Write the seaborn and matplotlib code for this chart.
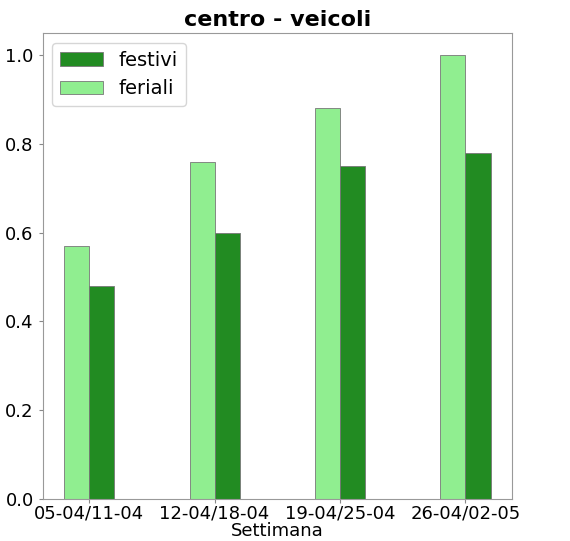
import pandas as pd
import seaborn as sns
import matplotlib.pyplot as plt

settimane = ['05-04/11-04', '12-04/18-04', '19-04/25-04', '26-04/02-05']
festivi = [0.48, 0.60, 0.75, 0.78]
feriali = [0.57, 0.76, 0.88, 1.00]

df = pd.DataFrame({
    'Settimana': settimane * 2,
    'valore': feriali + festivi,
    'tipo': ['feriali'] * 4 + ['festivi'] * 4,
})

plt.rcParams['font.family'] = ['DejaVu Sans']
fig, ax = plt.subplots(figsize=(5.7, 5.41), dpi=100)
sns.barplot(data=df, x='Settimana', y='valore', hue='tipo',
            hue_order=['feriali', 'festivi'],
            palette={'feriali': 'lightgreen', 'festivi': 'forestgreen'},
            saturation=1, width=0.4, edgecolor='#777777', linewidth=0.6, ax=ax)

ax.set_xlim(-0.37, 3.37)
ax.set_ylim(0, 1.05)
ax.set_yticks([0.0, 0.2, 0.4, 0.6, 0.8, 1.0])
ax.set_title('centro - veicoli', fontsize=16, fontweight='bold', pad=5)
ax.set_xlabel('Settimana', fontsize=13, labelpad=0)
ax.set_ylabel('')
ax.tick_params(labelsize=13, length=3, color='#888888')
ax.tick_params(axis='x', pad=1)
for s in ax.spines.values():
    s.set_color('#999999')

handles, labels = ax.get_legend_handles_labels()
order = [labels.index('festivi'), labels.index('feriali')]
ax.legend([handles[i] for i in order], [labels[i] for i in order],
          loc='upper left', fontsize=14, title=None, handlelength=2.2)

fig.subplots_adjust(left=0.075, right=0.898, top=0.939, bottom=0.078)
fig.savefig('out.png')
